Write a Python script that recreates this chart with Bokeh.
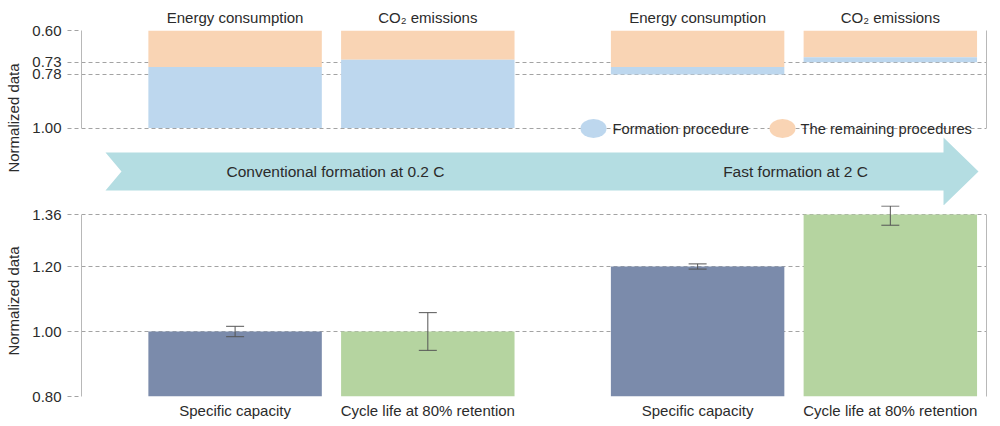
from bokeh.plotting import figure
from bokeh.models import (Range1d, LinearAxis, FixedTicker, PrintfTickFormatter,
                          Whisker, TeeHead, ColumnDataSource)
from bokeh.layouts import column
from bokeh.core.properties import value
from bokeh.embed import file_html
from bokeh.resources import INLINE

# ---------------- data ----------------
groups = ["Conventional formation at 0.2 C", "Fast formation at 2 C"]
top_categories = ["Energy consumption", "CO\u2082 emissions"]
top_axis_start = 0.60
top_formation_start = [0.75, 0.72, 0.75, 0.71]   # remaining procedures end / formation begins
top_total = [1.00, 1.00, 0.78, 0.73]
top_ticks = [0.60, 0.73, 0.78, 1.00]
legend_labels = ["Formation procedure", "The remaining procedures"]

bottom_categories = ["Specific capacity", "Cycle life at 80% retention"]
bottom_axis_start = 0.80
bottom_values = [1.00, 1.00, 1.20, 1.36]
bottom_err_lower = [0.984, 0.942, 1.192, 1.327]
bottom_err_upper = [1.016, 1.058, 1.208, 1.386]
bottom_ticks = [0.80, 1.00, 1.20, 1.36]

# ---------------- style ----------------
FONT = "Liberation Sans"
TXT = "#2b2b2b"
AXIS_C = "#b8b8b8"
GRID_C = "#a3a3a3"
C_FORM = "#bdd7ee"
C_REST = "#f9d4b4"
C_CAP = "#7b8bab"
C_CYC = "#b5d4a0"
C_ARROW = "#b4dde2"
FS = "15px"

GROUP_STEP = 2.4
xpos = [g * GROUP_STEP + i + 1 for g in range(len(groups)) for i in range(len(top_categories))]
X0, X1 = 0.203, 4.899
BAR_W = 0.9
W = 1000
LEFT, RIGHT = 81, 14


def style_left_axis(ax, ticks, bounds):
    ax.ticker = FixedTicker(ticks=ticks)
    ax.formatter = PrintfTickFormatter(format="%.2f")
    ax.bounds = bounds
    ax.axis_line_color = AXIS_C
    ax.major_tick_line_color = GRID_C
    ax.major_tick_line_dash = "4 3"
    ax.major_tick_out = 14
    ax.major_tick_in = 0
    ax.minor_tick_line_color = None
    ax.major_label_text_font = FONT
    ax.major_label_text_font_size = FS
    ax.major_label_text_color = TXT
    ax.major_label_standoff = 6
    ax.axis_label = "Normalized data"
    ax.axis_label_text_font = FONT
    ax.axis_label_text_font_size = FS
    ax.axis_label_text_font_style = "normal"
    ax.axis_label_text_color = TXT
    ax.axis_label_standoff = 7


def add_right_border(p, bounds):
    ax = LinearAxis(bounds=bounds, ticker=FixedTicker(ticks=[]),
                    axis_line_color=AXIS_C, major_tick_line_color=None,
                    minor_tick_line_color=None, major_label_text_font_size="0px",
                    major_label_standoff=0)
    p.add_layout(ax, "right")


def style_cat_axis(ax, labels, standoff):
    ax.ticker = FixedTicker(ticks=xpos)
    ax.major_label_overrides = {x: lab for x, lab in zip(xpos, labels)}
    ax.axis_line_color = None
    ax.major_tick_line_color = None
    ax.minor_tick_line_color = None
    ax.major_tick_out = 0
    ax.major_tick_in = 0
    ax.major_label_text_font = FONT
    ax.major_label_text_font_size = FS
    ax.major_label_text_color = TXT
    ax.major_label_standoff = standoff


def style_grid(p, ticks):
    p.xgrid.visible = False
    p.ygrid.ticker = FixedTicker(ticks=ticks)
    p.ygrid.grid_line_color = GRID_C
    p.ygrid.grid_line_dash = "4 3"
    p.ygrid.grid_line_width = 1


# ---------------- top panel ----------------
TOP_H = 205
TOP_FRAME_TOP = 30
top_px_per_unit = 243.75
top_range_bottom = top_axis_start + (TOP_H - TOP_FRAME_TOP) / top_px_per_unit

top = figure(width=W, height=TOP_H, x_range=Range1d(X0, X1),
             y_range=Range1d(top_range_bottom, top_axis_start),
             x_axis_location="above", output_backend="svg", toolbar_location=None,
             min_border_left=LEFT, min_border_right=RIGHT,
             min_border_top=TOP_FRAME_TOP, min_border_bottom=0,
             outline_line_color=None, background_fill_color="white")
top.extra_x_ranges = {"px": Range1d(LEFT, W - RIGHT)}
top.extra_y_ranges = {"px": Range1d(TOP_H, TOP_FRAME_TOP)}

style_grid(top, top_ticks)
style_left_axis(top.yaxis[0], top_ticks, (top_ticks[0], top_ticks[-1]))
add_right_border(top, (top_ticks[0], top_ticks[-1]))
style_cat_axis(top.xaxis[0], top_categories * len(groups), 5)

top.vbar(x=xpos, width=BAR_W, bottom=top_axis_start, top=top_formation_start,
         fill_color=C_REST, line_color=None)
top.vbar(x=xpos, width=BAR_W, bottom=top_formation_start, top=top_total,
         fill_color=C_FORM, line_color=None)

# legend (ellipses + labels) in pixel space
top.ellipse(x=[593, 782], y=[128, 128], width=26, height=19,
            width_units="screen", height_units="screen",
            fill_color=[C_FORM, C_REST], line_color=None,
            x_range_name="px", y_range_name="px")
top.text(x=[612, 800], y=[128, 128], text=legend_labels,
         text_font=value(FONT), text_font_size="14.7px", text_color=TXT,
         text_baseline="middle", text_align="left",
         x_range_name="px", y_range_name="px")

# big process arrow (decoration) in pixel space
ax_x = [105, 943, 943, 978, 943, 943, 105, 121]
ax_y = [152, 152, 137, 171, 205, 190, 190, 171]
top.patch(x=ax_x, y=ax_y, fill_color=C_ARROW, line_color=None,
          x_range_name="px", y_range_name="px")
top.text(x=[335, 795], y=[171, 171], text=groups,
         text_font=value(FONT), text_font_size="15.5px", text_color=TXT,
         text_baseline="middle", text_align="center",
         x_range_name="px", y_range_name="px")

# ---------------- bottom panel ----------------
BOT_H = 221
BOT_BORDER_BOTTOM = 30
bot_px_per_unit = 325.0
bot_range_top = bottom_axis_start + (BOT_H - BOT_BORDER_BOTTOM) / bot_px_per_unit

bot = figure(width=W, height=BOT_H, x_range=Range1d(X0, X1),
             y_range=Range1d(bottom_axis_start, bot_range_top),
             output_backend="svg", toolbar_location=None,
             min_border_left=LEFT, min_border_right=RIGHT,
             min_border_top=0, min_border_bottom=BOT_BORDER_BOTTOM,
             outline_line_color=None, background_fill_color="white")

style_grid(bot, bottom_ticks)
style_left_axis(bot.yaxis[0], bottom_ticks, (bottom_ticks[0], bottom_ticks[-1]))
add_right_border(bot, (bottom_ticks[0], bottom_ticks[-1]))
style_cat_axis(bot.xaxis[0], bottom_categories * len(groups), 5)

bot.vbar(x=xpos, width=BAR_W, bottom=bottom_axis_start, top=bottom_values,
         fill_color=[C_CAP, C_CYC, C_CAP, C_CYC], line_color=None)

err_src = ColumnDataSource(dict(x=xpos, lower=bottom_err_lower, upper=bottom_err_upper))
wh = Whisker(base="x", lower="lower", upper="upper", source=err_src,
             line_color="#555555", line_width=1, level="annotation",
             upper_head=TeeHead(size=18, line_color="#555555", line_width=1),
             lower_head=TeeHead(size=18, line_color="#555555", line_width=1))
bot.add_layout(wh)

layout = column(top, bot, spacing=0)
open("out.html", "w").write(file_html(layout, INLINE))
